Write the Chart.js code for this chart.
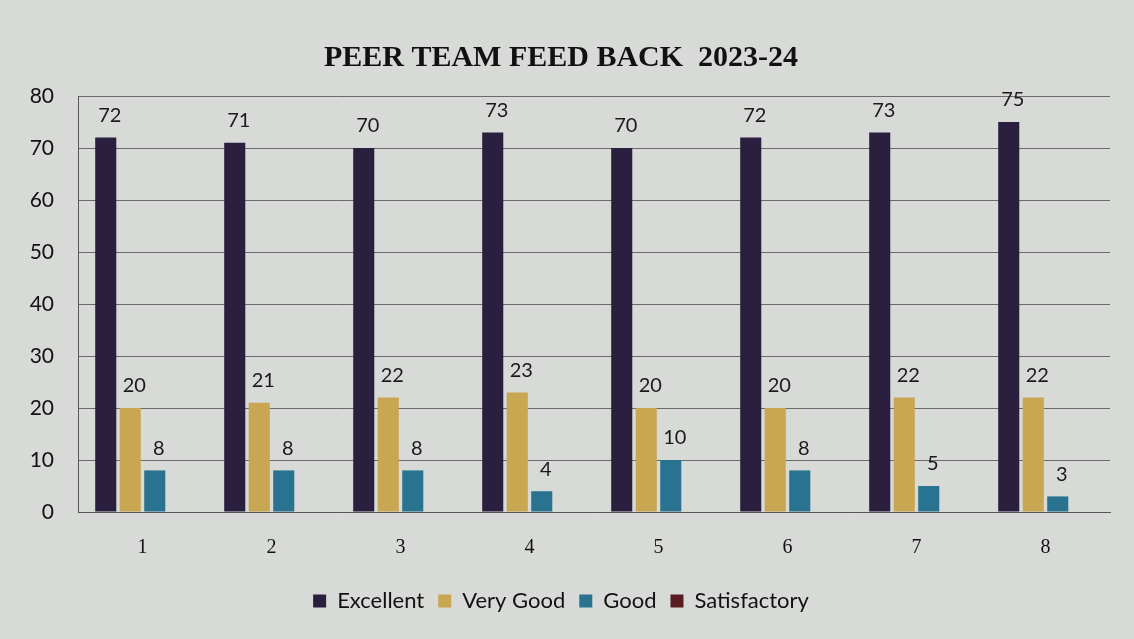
<!DOCTYPE html>
<html><head><meta charset="utf-8">
<script src="https://cdn.jsdelivr.net/npm/chart.js@4/dist/chart.umd.min.js"></script>
<style>
html,body{margin:0;padding:0;background:#d7dad6;}
#wrap{position:absolute;left:0;top:0;width:1134px;height:639px;}
</style></head>
<body><div id="wrap"><canvas id="c" width="1134" height="639"></canvas></div>
<script>
const categories = ['1','2','3','4','5','6','7','8'];
const excellent = [72,71,70,73,70,72,73,75];
const veryGood = [20,21,22,23,20,20,22,22];
const good = [8,8,8,4,10,8,5,3];
const satisfactory = [0,0,0,0,0,0,0,0];
const yTicks = [0,10,20,30,40,50,60,70,80];

const labelPlugin = {
  id:'barLabels',
  afterDatasetsDraw(chart){
    const ctx = chart.ctx;
    ctx.save();
    ctx.font = '20px Lato, "Open Sans", sans-serif';
    ctx.fillStyle = '#1a1a1a';
    ctx.textAlign = 'center';
    ctx.textBaseline = 'bottom';
    chart.data.datasets.forEach((ds,i)=>{
      const meta = chart.getDatasetMeta(i);
      meta.data.forEach((bar,j)=>{
        const v = ds.data[j];
        if(!v) return;
        ctx.fillText(String(v), bar.x + 4, bar.y - 12);
      });
    });
    ctx.restore();
  }
};

new Chart(document.getElementById('c'),{
  type:'bar',
  data:{
    labels:categories,
    datasets:[
      {label:'Excellent',data:excellent,backgroundColor:'#2b1f3f'},
      {label:'Very Good',data:veryGood,backgroundColor:'#c9a651'},
      {label:'Good',data:good,backgroundColor:'#2a7390'},
      {label:'Satisfactory',data:satisfactory,backgroundColor:'#5a1c20'}
    ]
  },
  options:{
    responsive:false,
    animation:false,
    layout:{padding:{left:12,right:24,top:10,bottom:17}},
    datasets:{bar:{barPercentage:0.86,categoryPercentage:0.76}},
    plugins:{
      title:{display:true,text:'PEER TEAM FEED BACK  2023-24',color:'#111',
        font:{family:'"Liberation Serif", "Times New Roman", serif',size:30,weight:'bold'},
        padding:{top:30,bottom:20}},
      legend:{position:'bottom',labels:{color:'#111',boxWidth:13,boxHeight:13,padding:14,
        font:{family:'Lato, "Open Sans", sans-serif',size:22}}},
      tooltip:{enabled:false}
    },
    scales:{
      x:{grid:{display:false},border:{color:'#555',width:1},
        ticks:{color:'#111',padding:16,font:{family:'"Liberation Serif", serif',size:20}}},
      y:{min:0,max:80,afterBuildTicks(s){s.ticks=yTicks.map(v=>({value:v}));},
        afterFit(s){s.width=66;},
        grid:{color:'#6b6b6b',lineWidth:1,drawTicks:false},
        border:{color:'#555',width:1},
        ticks:{color:'#111',padding:24,font:{family:'Lato, "Open Sans", sans-serif',size:21}}}
    }
  },
  plugins:[labelPlugin]
});
</script></body></html>
